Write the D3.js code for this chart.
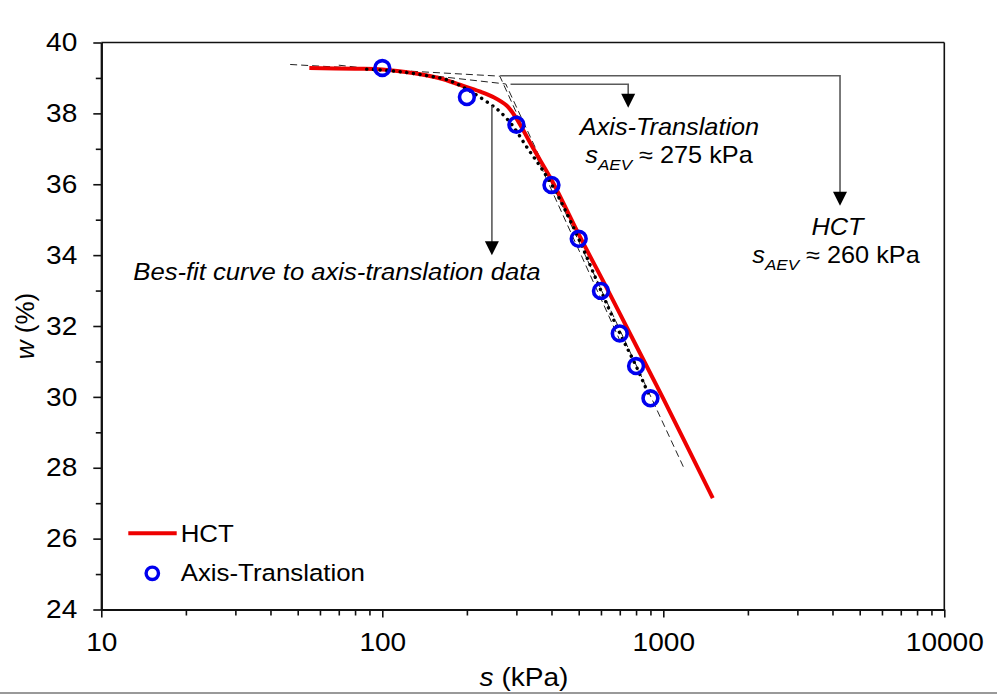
<!DOCTYPE html>
<html><head><meta charset="utf-8">
<script src="https://cdn.jsdelivr.net/npm/d3@7"></script>
<style>body{margin:0;background:#fff}svg{display:block}text{font-family:"Liberation Sans",Arial,sans-serif;fill:#000}</style>
</head><body>
<svg id="c" width="997" height="698"></svg>
<script>
// ---- data ----
const xMajor = [10, 100, 1000, 10000];
const yMajor = [24, 26, 28, 30, 32, 34, 36, 38, 40];
const yMinor = [25, 27, 29, 31, 33, 35, 37, 39];
const atS = [100, 200, 300, 400, 500, 600, 700, 800, 900];
const atW = [39.28, 38.46, 37.68, 35.98, 34.46, 32.99, 31.79, 30.87, 29.96];
const hctS = [55, 80, 100, 130, 160, 190, 222, 250, 277, 300, 344, 406, 505, 636, 800, 1000, 1500];
const hctW = [39.28, 39.26, 39.24, 39.13, 38.99, 38.80, 38.62, 38.45, 38.22, 37.86, 37.02, 36.03, 34.52, 33.0, 31.45, 29.95, 27.14];
const bfS = [88, 120, 150, 170, 200, 235, 263, 293, 326, 372, 400, 500, 600, 700, 800, 900];
const bfW = [39.25, 39.16, 39.04, 38.95, 38.68, 38.33, 38.04, 37.62, 37.06, 36.40, 36.00, 34.46, 33.0, 31.8, 30.87, 29.95];
const hctTanS = [47, 262, 700];
const hctTanW = [39.38, 39.05, 31.6];
const atTanS = [70, 275, 1178];
const atTanW = [39.36, 38.83, 28.03];
const sAEV_AT = 275, sAEV_HCT = 260;

const svg = d3.select("#c");
const x = d3.scaleLog().domain([10, 10000]).range([101.3, 944.3]);
const y = d3.scaleLinear().domain([24, 40]).range([609.5, 42.5]);
const SX = 1.1;

// minor x ticks
const xMinor = [];
for (let d = 10; d < 10000; d *= 10) for (let k = 2; k <= 9; k++) xMinor.push(d * k);

// frame top/right
svg.append("line").attr("x1", x(10)).attr("x2", x(10000)).attr("y1", y(40)).attr("y2", y(40)).attr("stroke", "#111").attr("stroke-width", 1.6);
svg.append("line").attr("x1", x(10000)).attr("x2", x(10000)).attr("y1", y(40)).attr("y2", y(24)).attr("stroke", "#111").attr("stroke-width", 1.6);

// axes
const gx = svg.append("g").attr("transform", `translate(0,${y(24)})`);
gx.call(d3.axisBottom(x).tickValues(xMinor).tickSize(6).tickSizeOuter(0).tickFormat(""));
const gx2 = svg.append("g").attr("transform", `translate(0,${y(24)})`);
gx2.call(d3.axisBottom(x).tickValues(xMajor).tickSize(8).tickSizeOuter(0).tickFormat(d3.format("d")));
gx2.selectAll("text").attr("y", 23.5).attr("dy", "0.71em").attr("transform", `scale(${SX},1)`).style("font-size", "25.5px");

const gy = svg.append("g").attr("transform", `translate(${x(10)},0)`);
gy.call(d3.axisLeft(y).tickValues(yMinor).tickSize(5.5).tickSizeOuter(0).tickFormat(""));
const gy2 = svg.append("g").attr("transform", `translate(${x(10)},0)`);
gy2.call(d3.axisLeft(y).tickValues(yMajor).tickSize(8).tickSizeOuter(0).tickFormat(d3.format("d")));
gy2.selectAll("text").attr("x", -24 / SX).attr("transform", `scale(${SX},1)`).style("font-size", "25.5px");

[gx, gx2, gy, gy2].forEach(g => {
  g.selectAll("path.domain").attr("stroke", "#111").attr("stroke-width", 2);
  g.selectAll(".tick line").attr("stroke", "#111").attr("stroke-width", 1.6);
});

// axis titles
const xt = svg.append("g").attr("transform", `translate(524,686) scale(${SX},1)`)
  .append("text").attr("text-anchor", "middle").style("font-size", "25.5px");
xt.append("tspan").attr("font-style", "italic").text("s");
xt.append("tspan").text(" (kPa)");
const yt = svg.append("g").attr("transform", `translate(33.5,${(y(24)+y(40))/2}) rotate(-90)`)
  .append("text").attr("text-anchor", "middle").style("font-size", "26px");
yt.append("tspan").attr("font-style", "italic").text("w");
yt.append("tspan").text(" (%)");

// tangent dashed lines
const line = d3.line().x(d => x(d[0])).y(d => y(d[1]));
svg.append("path").datum(hctTanS.map((s, i) => [s, hctTanW[i]])).attr("d", line)
  .attr("fill", "none").attr("stroke", "#222").attr("stroke-width", 1).attr("stroke-dasharray", "7 4");
svg.append("path").datum(atTanS.map((s, i) => [s, atTanW[i]])).attr("d", line)
  .attr("fill", "none").attr("stroke", "#222").attr("stroke-width", 1).attr("stroke-dasharray", "7 4");

// HCT curve
const curve = d3.line().x(d => x(d[0])).y(d => y(d[1])).curve(d3.curveMonotoneX);
const smooth = d3.line().x(d => x(d[0])).y(d => y(d[1])).curve(d3.curveCatmullRom.alpha(0.5));
svg.append("path").datum(hctS.map((s, i) => [s, hctW[i]])).attr("d", smooth)
  .attr("fill", "none").attr("stroke", "#ee0000").attr("stroke-width", 4);

// best-fit dotted
svg.append("path").datum(bfS.map((s, i) => [s, bfW[i]])).attr("d", curve)
  .attr("fill", "none").attr("stroke", "#000").attr("stroke-width", 3.4)
  .attr("stroke-linecap", "round").attr("stroke-dasharray", "0.1 6.6");

// AT circles
svg.append("g").selectAll("circle").data(atS.map((s, i) => [s, atW[i]])).join("circle")
  .attr("cx", d => x(d[0])).attr("cy", d => y(d[1])).attr("r", 7.4)
  .attr("fill", "none").attr("stroke", "#0000ee").attr("stroke-width", 3.6);

// annotation brackets/arrows
const gray = "#5a5a5a";
function arrowHead(px, tip) {
  svg.append("path").attr("d", `M${px - 7},${tip - 14}L${px + 7},${tip - 14}L${px},${tip}Z`).attr("fill", "#000");
}
function bracket(s0, w0, s1, wTip) {
  const p = `M${x(s0)},${y(w0)}H${x(s1)}V${y(wTip) - 13}`;
  svg.append("path").attr("d", p).attr("fill", "none").attr("stroke", gray).attr("stroke-width", 1.6);
  arrowHead(x(s1), y(wTip));
}
bracket(sAEV_HCT * 1.01, 39.06, 4255, 35.39);
bracket(sAEV_AT * 1.04, 38.82, 750, 38.16);
// best-fit arrow
svg.append("line").attr("x1", x(245.5)).attr("x2", x(245.5)).attr("y1", y(38.21)).attr("y2", y(34.0) - 13)
  .attr("stroke", gray).attr("stroke-width", 1.6);
arrowHead(x(245.5), y(34.0));

// annotation texts
function stext(tx, ty, anchor, size) {
  return svg.append("g").attr("transform", `translate(${tx},${ty}) scale(${SX},1)`)
    .append("text").attr("text-anchor", anchor).style("font-size", size + "px");
}
stext(669.5, 135, "middle", 23).attr("font-style", "italic").text("Axis-Translation");
function saev(tx, ty, val) {
  const t = stext(tx, ty, "middle", 23);
  t.append("tspan").attr("font-style", "italic").text("s");
  t.append("tspan").attr("font-style", "italic").attr("dy", 7).style("font-size", "15.5px").text("AEV");
  t.append("tspan").attr("dy", -7).text(" \u2248 " + val + " kPa");
}
saev(669, 163.3, sAEV_AT);
stext(837.5, 235, "middle", 23).attr("font-style", "italic").text("HCT");
saev(836, 263.3, sAEV_HCT);
stext(133.3, 280, "start", 23.3).attr("font-style", "italic").text("Bes-fit curve to axis-translation data");

// legend
svg.append("line").attr("x1", 128.3).attr("x2", 176.7).attr("y1", 533.3).attr("y2", 533.3)
  .attr("stroke", "#ee0000").attr("stroke-width", 4);
stext(180.7, 541.7, "start", 23.5).text("HCT");
svg.append("circle").attr("cx", 152.3).attr("cy", 573.3).attr("r", 6.2)
  .attr("fill", "none").attr("stroke", "#0000ee").attr("stroke-width", 3.4);
stext(180.7, 581, "start", 23.5).text("Axis-Translation");

// bottom border line
svg.append("line").attr("x1", 0).attr("x2", 997).attr("y1", 693).attr("y2", 693).attr("stroke", "#777").attr("stroke-width", 1.5);
</script>
</body></html>
